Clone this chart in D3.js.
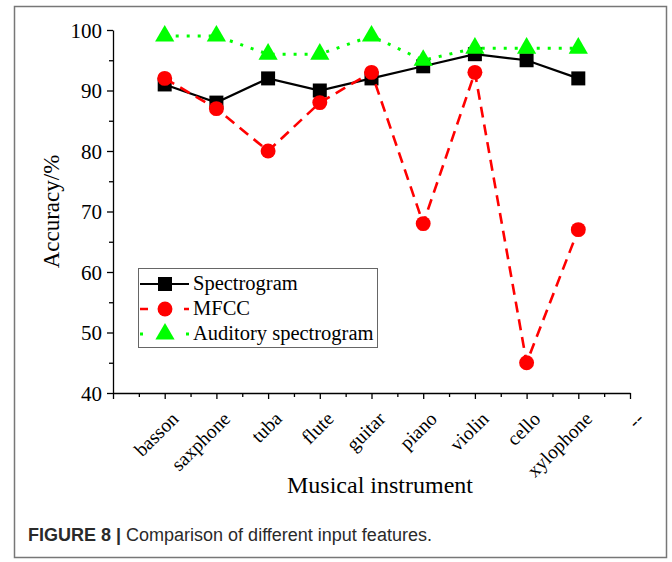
<!DOCTYPE html>
<html>
<head>
<meta charset="utf-8">
<script src="https://cdn.jsdelivr.net/npm/d3@7"></script>
<style>
  body { margin: 0; background: #fff; }
</style>
</head>
<body>
<svg id="viz" width="672" height="562"></svg>
<script>
// ----- data -----
const instruments = ["basson", "saxphone", "tuba", "flute", "guitar", "piano", "violin", "cello", "xylophone", "--"];
const spectrogram = [91, 88, 92, 90, 92, 94, 96, 95, 92];
const mfcc        = [92, 87, 80, 88, 93, 68, 93, 45, 67];
const auditory    = [99, 99, 96, 96, 99, 95, 97, 97, 97];
const yTicks      = [40, 50, 60, 70, 80, 90, 100];

const SERIF = '"Liberation Serif", "Times New Roman", serif';

const series = [
  { name: "Spectrogram",          values: spectrogram, color: "#000",    dash: null,   width: 2.2, symbol: d3.symbolSquare,   size: 196 },
  { name: "MFCC",                 values: mfcc,        color: "#ff0000", dash: "11,7", width: 2.6, symbol: d3.symbolCircle,   size: 175 },
  { name: "Auditory spectrogram", values: auditory,    color: "#00ff00", dash: "3,8",  width: 3,   symbol: d3.symbolTriangle, size: 160 }
];

const svg = d3.select("#viz");

// outer figure frame
svg.append("rect")
  .attr("x", 14.5).attr("y", 6.5).attr("width", 652).attr("height", 551)
  .attr("fill", "none").attr("stroke", "#777").attr("stroke-width", 1.5);

// scales
const x = d3.scaleLinear().domain([0, 10]).range([113, 630]);
const y = d3.scaleLinear().domain([40, 100]).range([393, 30]);

// y axis (major + minor ticks)
const yAxis = svg.append("g").attr("transform", `translate(${x(0)},0)`)
  .call(d3.axisLeft(y).tickValues(yTicks).tickSize(6).tickSizeOuter(0).tickPadding(5));
svg.append("g").attr("transform", `translate(${x(0)},0)`)
  .call(d3.axisLeft(y).tickValues(d3.range(45, 100, 10)).tickSize(4).tickFormat("").tickSizeOuter(0))
  .select(".domain").remove();
yAxis.attr("font-family", SERIF).attr("font-size", 21);
yAxis.selectAll("text").attr("fill", "#000").attr("dy", "0.34em");

// x axis
svg.append("g").attr("transform", `translate(0,${y(40)})`)
  .call(d3.axisBottom(x).tickValues(d3.range(0, 11)).tickSize(6).tickSizeOuter(0).tickFormat(""));
svg.append("g").attr("transform", `translate(0,${y(40)})`)
  .call(d3.axisBottom(x).tickValues(d3.range(0.5, 10, 1)).tickSize(4).tickFormat("").tickSizeOuter(0))
  .select(".domain").remove();
svg.selectAll(".domain, .tick line").attr("stroke", "#000").attr("stroke-width", 1.3);

// rotated category labels
svg.append("g")
  .attr("font-family", SERIF).attr("font-size", 19.5)
  .selectAll("text")
  .data(instruments)
  .join("text")
  .attr("transform", (d, i) => `translate(${x(i + 1) + 15},${y(40) + 27}) rotate(-45)`)
  .attr("text-anchor", "end")
  .text(d => d);

// axis titles
svg.append("text")
  .attr("transform", `translate(59,${(y(40) + y(100)) / 2}) rotate(-90)`)
  .attr("text-anchor", "middle")
  .attr("font-family", SERIF).attr("font-size", 23)
  .text("Accuracy/%");
svg.append("text")
  .attr("x", 380).attr("y", 493)
  .attr("text-anchor", "middle")
  .attr("font-family", SERIF).attr("font-size", 24)
  .text("Musical instrument");

// lines + markers
const line = d3.line().x((d, i) => x(i + 1)).y(d => y(d));
series.forEach(s => {
  svg.append("path")
    .attr("d", line(s.values))
    .attr("fill", "none")
    .attr("stroke", s.color)
    .attr("stroke-width", s.width)
    .attr("stroke-dasharray", s.dash);
  svg.append("g").selectAll("path")
    .data(s.values)
    .join("path")
    .attr("transform", (d, i) => `translate(${x(i + 1)},${y(d)})`)
    .attr("d", d3.symbol(s.symbol, s.size))
    .attr("fill", s.color);
});

// legend
const lg = svg.append("g").attr("transform", "translate(138,268)");
lg.append("rect").attr("x", 0.5).attr("y", 0.5).attr("width", 239).attr("height", 79)
  .attr("fill", "#fff").attr("stroke", "#666").attr("stroke-width", 1);
series.forEach((s, i) => {
  const yy = 16 + i * 25;
  lg.append("line")
    .attr("x1", 2).attr("x2", 51).attr("y1", yy).attr("y2", yy)
    .attr("stroke", s.color).attr("stroke-width", s.width)
    .attr("stroke-dasharray", s.dash ? (i === 2 ? "3,20" : "8,14") : null);
  lg.append("path")
    .attr("transform", `translate(27,${yy})`)
    .attr("d", d3.symbol(s.symbol, s.size))
    .attr("fill", s.color);
  lg.append("text")
    .attr("x", 55).attr("y", yy + 6)
    .attr("font-family", SERIF).attr("font-size", 20.5)
    .text(s.name);
});

// caption
const cap = svg.append("text").attr("x", 28).attr("y", 541)
  .attr("font-family", '"Liberation Sans", Arial, sans-serif').attr("font-size", 18).attr("fill", "#2a2a2a");
cap.append("tspan").attr("font-weight", "bold").text("FIGURE 8 | ");
cap.append("tspan").text("Comparison of different input features.");
</script>
</body>
</html>
